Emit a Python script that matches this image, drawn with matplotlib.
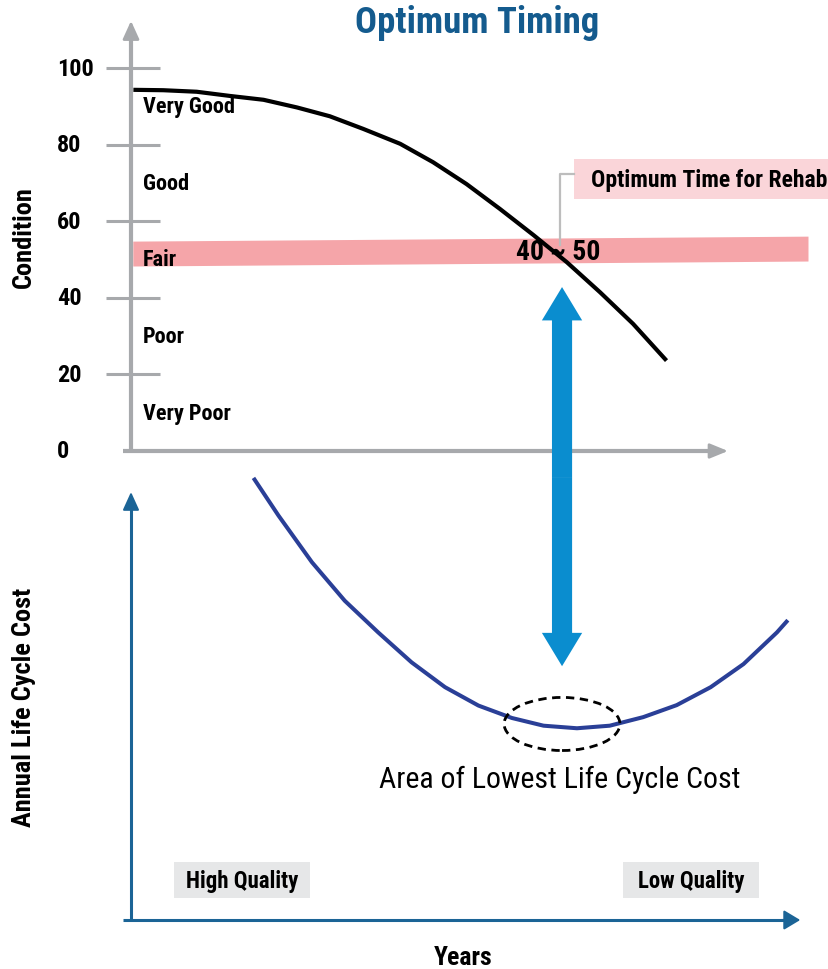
"""Optimum timing for rehab: condition curve over annual life-cycle cost curve."""
import matplotlib
matplotlib.use("Agg")
import matplotlib.pyplot as plt
from matplotlib import font_manager
from matplotlib.patches import Ellipse, Rectangle

# pick a condensed sans if one is installed
_names = {f.name for f in font_manager.fontManager.ttflist}
FONT = next(n for n in ["Roboto Condensed", "Liberation Sans Narrow", "Roboto", "DejaVu Sans"]
            if n in _names)
plt.rcParams["font.family"] = [FONT, "DejaVu Sans"]

# --- data ---
cond_years = [0.4, 5.4, 11.0, 16.6, 22.2, 27.8, 33.3, 38.9, 45.1, 50.6, 56.2, 61.8, 67.4,
              73.0, 78.6, 84.1, 89.7]
condition = [94.3, 94.2, 93.8, 92.7, 91.7, 89.7, 87.4, 84.1, 80.2, 75.4, 69.7, 63.2, 56.4,
             49.3, 41.4, 33.2, 23.6]

cost_years = [20.7, 24.7, 30.3, 35.8, 41.4, 47.0, 52.6, 58.2, 63.8, 69.1, 74.7, 80.2, 85.8,
              91.4, 97.1, 102.6, 108.2, 109.8]
annual_cost = [102.9, 94.5, 83.6, 74.6, 67.2, 60.2, 54.4, 50.1, 47.2, 45.4, 44.8, 45.4, 47.4,
               50.2, 54.4, 59.8, 67.2, 69.7]

cond_ticks = [0, 20, 40, 60, 80, 100]
cond_bands = ["Very Good", "Good", "Fair", "Poor", "Very Poor"]
band_mid = [90, 70, 50, 30, 10]

fair_x = [0.3, 113.4]
fair_lo = [48.3, 49.6]
fair_hi = [54.8, 56.1]

optimum_year = 72.2
optimum_label = "40 ~ 50"
min_cost_year = 72.2
min_cost = 45.8

GREY = "#a7a9ac"
AXBLUE = "#1b6496"
CURVE_BLUE = "#2a3f97"
ARROW_BLUE = "#0a8dcf"
TITLE_BLUE = "#145b8e"


def main():
    W, H = 829, 970
    fig = plt.figure(figsize=(W / 100, H / 100), dpi=100)

    # axes rects from pixel layout (x: 0..100 spans px 131..728)
    ax = fig.add_axes([131 / W, 1 - 452 / H, 597 / W, 383 / H])
    ax.set_xlim(0, 100)
    ax.set_ylim(0, 100)
    ax.axis("off")

    bx = fig.add_axes([131 / W, 1 - 921 / H, 597 / W, 428 / H])
    bx.set_xlim(0, 100)
    bx.set_ylim(0, 100)
    bx.axis("off")

    # ---- top panel: condition ----
    ax.fill_between(fair_x, fair_lo, fair_hi, color="#f5a5a9", lw=0, clip_on=False, zorder=1)

    ax.plot([-1.3, 99], [0, 0], color=GREY, lw=3, clip_on=False, solid_capstyle="butt")
    ax.annotate("", xy=(100, 0), xytext=(97, 0),
                arrowprops=dict(arrowstyle="-|>,head_length=1.1,head_width=0.45",
                                color=GREY, lw=2, mutation_scale=10, shrinkA=0, shrinkB=0),
                annotation_clip=False)
    ax.plot([0, 0], [0, 110], color=GREY, lw=3, clip_on=False, solid_capstyle="butt")
    ax.annotate("", xy=(0, 112.3), xytext=(0, 108),
                arrowprops=dict(arrowstyle="-|>,head_length=1.1,head_width=0.5",
                                color=GREY, lw=2, mutation_scale=10, shrinkA=0, shrinkB=0),
                annotation_clip=False)

    for t in cond_ticks:
        if t > 0:
            ax.plot([-4.2, 4.9], [t, t], color=GREY, lw=2.2, clip_on=False,
                    solid_capstyle="butt")
        ax.text(-12.4, t, str(t), ha="left", va="center", fontsize=17.5,
                fontweight="bold", color="black", clip_on=False)

    for name, y in zip(cond_bands, band_mid):
        ax.text(2.0, y, name, ha="left", va="center", fontsize=16, fontweight="bold",
                zorder=3)

    ax.plot(cond_years, condition, color="black", lw=3.0, clip_on=False, zorder=4,
            solid_capstyle="butt", solid_joinstyle="round")

    ax.text(71.5, 52.2, optimum_label, ha="center", va="center", fontsize=20,
            fontweight="bold", zorder=5)

    # annotation box + leader line
    ax.add_patch(Rectangle((74.2, 65.8), 50, 10.4, fc="#fad5d9", ec="none",
                           clip_on=False, zorder=2))
    ax.text(77.1, 71.0, "Optimum Time for Rehab", ha="left", va="center", fontsize=17,
            fontweight="bold", clip_on=False, zorder=5)
    ax.plot([74.2, 71.9, 71.9], [72.3, 72.3, 53.8], color="#bdbdbd", lw=1.6,
            clip_on=False, zorder=4)

    # ---- bottom panel: cost ----
    bx.plot([-1.3, 110], [0, 0], color=AXBLUE, lw=2.2, clip_on=False, solid_capstyle="butt")
    bx.annotate("", xy=(112.1, 0), xytext=(109, 0),
                arrowprops=dict(arrowstyle="-|>,head_length=1.0,head_width=0.6",
                                color=AXBLUE, lw=1.5, mutation_scale=10, shrinkA=0, shrinkB=0),
                annotation_clip=False)
    bx.plot([0, 0], [0, 97], color=AXBLUE, lw=2.2, clip_on=False, solid_capstyle="butt")
    bx.annotate("", xy=(0, 100), xytext=(0, 96),
                arrowprops=dict(arrowstyle="-|>,head_length=1.1,head_width=0.5",
                                color=AXBLUE, lw=1.5, mutation_scale=10, shrinkA=0, shrinkB=0),
                annotation_clip=False)

    bx.plot(cost_years, annual_cost, color=CURVE_BLUE, lw=2.9, clip_on=False, zorder=3,
            solid_joinstyle="round")

    bx.add_patch(Ellipse((min_cost_year, min_cost), 19.4, 12.4, fill=False, ec="black",
                         lw=2.0, ls=(0, (3, 2)), zorder=4))
    bx.text(71.9, 32.9, "Area of Lowest Life Cycle Cost", ha="center", va="center",
            fontsize=21.5)

    bx.add_patch(Rectangle((7.2, 5.1), 22.8, 8.5, fc="#e6e7e8", ec="none", zorder=1,
                           clip_on=False))
    bx.text(18.6, 9.3, "High Quality", ha="center", va="center", fontsize=16.5,
            fontweight="bold", zorder=2, clip_on=False)
    bx.add_patch(Rectangle((82.4, 5.1), 22.8, 8.5, fc="#e6e7e8", ec="none", zorder=1,
                           clip_on=False))
    bx.text(93.8, 9.3, "Low Quality", ha="center", va="center", fontsize=16.5,
            fontweight="bold", zorder=2, clip_on=False)

    # ---- double blue arrow linking the two panels ----
    arrow_style = "simple,head_length=2.4,head_width=2.9,tail_width=1.45"
    junction = (optimum_year, -6.8)
    ax.annotate("", xy=(optimum_year, 42.8), xytext=junction,
                arrowprops=dict(arrowstyle=arrow_style, fc=ARROW_BLUE, ec="none",
                                mutation_scale=10, shrinkA=0, shrinkB=0),
                annotation_clip=False, zorder=2)
    ax.annotate("", xy=(optimum_year, 59.3), xycoords=bx.transData,
                xytext=junction, textcoords=ax.transData,
                arrowprops=dict(arrowstyle=arrow_style, fc=ARROW_BLUE, ec="none",
                                mutation_scale=10, shrinkA=0, shrinkB=0),
                annotation_clip=False, zorder=2)

    # ---- titles / axis labels ----
    fig.text(477 / W, 1 - 23 / H, "Optimum Timing", ha="center", va="center", fontsize=26.5,
             fontweight="bold", color=TITLE_BLUE)
    fig.text(24 / W, 1 - 237 / H, "Condition", ha="center", va="center", rotation=90,
             fontsize=19, fontweight="bold")
    fig.text(24 / W, 1 - 707 / H, "Annual Life Cycle Cost", ha="center", va="center",
             rotation=90, fontsize=19, fontweight="bold")
    fig.text(463 / W, 1 - 958 / H, "Years", ha="center", va="center", fontsize=18.5,
             fontweight="bold")

    fig.savefig("out.png", dpi=100, facecolor="white")


if __name__ == "__main__":
    main()
